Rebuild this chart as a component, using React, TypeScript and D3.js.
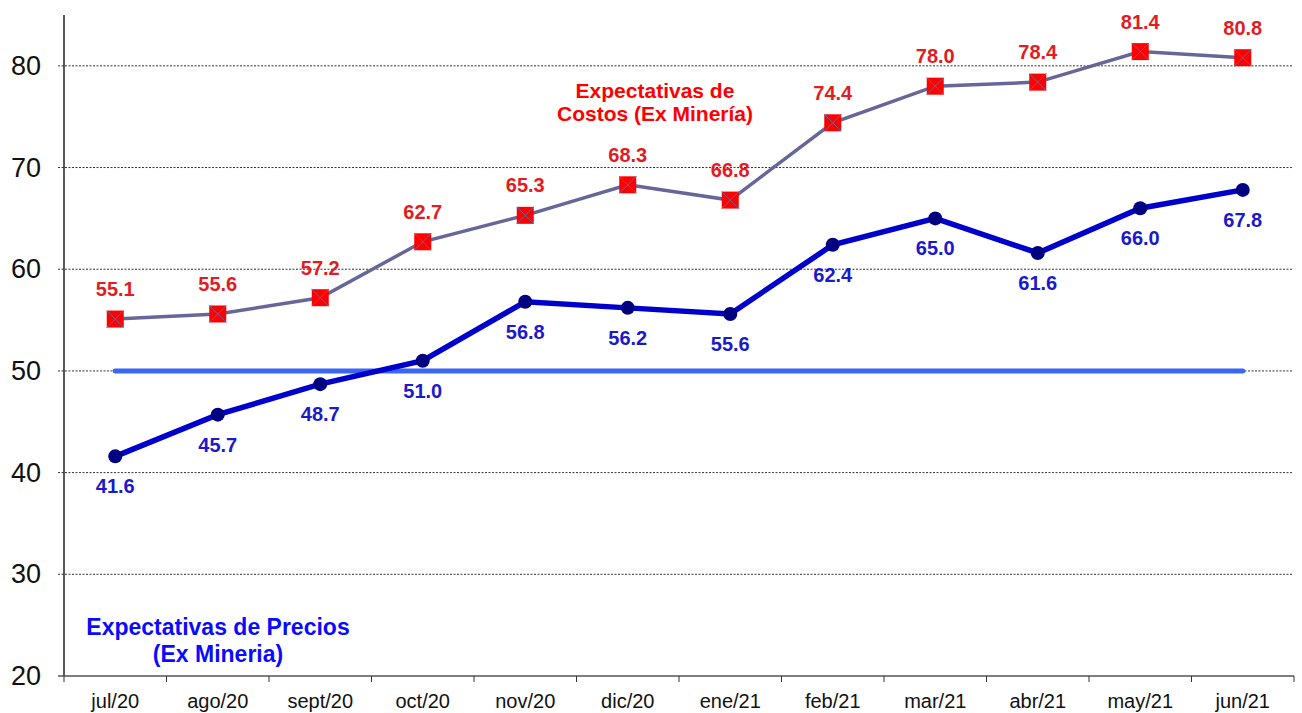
import React from "react";
import * as d3 from "d3";

const months = ["jul/20","ago/20","sept/20","oct/20","nov/20","dic/20","ene/21","feb/21","mar/21","abr/21","may/21","jun/21"];
const costos = [55.1,55.6,57.2,62.7,65.3,68.3,66.8,74.4,78.0,78.4,81.4,80.8];
const precios = [41.6,45.7,48.7,51.0,56.8,56.2,55.6,62.4,65.0,61.6,66.0,67.8];
const yTicks = [20,30,40,50,60,70,80];
const neutral = 50;

const W = 1302, H = 713;
const left = 64, right = 1294, top = 15, bottom = 676;

export default function App() {
  const x = d3.scaleBand<string>().domain(months).range([left, right]);
  const y = d3.scaleLinear().domain([20, 85]).range([bottom, top]);
  const cx = (m: string) => (x(m) as number) + x.bandwidth() / 2;
  const line = d3.line<number>().x((_, i) => cx(months[i])).y((d) => y(d));
  const font = "Arial, 'Liberation Sans', sans-serif";
  return (
    <div style={{ position: "absolute", left: 0, top: 0 }}>
      <svg width={W} height={H} style={{ display: "block", fontFamily: font }}>
        <rect width={W} height={H} fill="#fff" />
        {yTicks.filter(t => t > 20).map((t) => (
          <line key={t} x1={left - 6} x2={right - 1} y1={y(t)} y2={y(t)} stroke="#333" strokeWidth={1} strokeDasharray="2,1.5" />
        ))}
        {yTicks.map((t) => (
          <text key={t} x={41} y={y(t)} textAnchor="end" dominantBaseline="central" fontSize={27} fill="#111">{t}</text>
        ))}
        <line x1={left} x2={left} y1={top} y2={bottom} stroke="#000" strokeWidth={1.3} />
        <line x1={left - 6} x2={right} y1={bottom} y2={bottom} stroke="#555" strokeWidth={1.5} />
        {months.map((m) => (
          <line key={m} x1={x(m) as number} x2={x(m) as number} y1={bottom} y2={bottom + 6} stroke="#333" strokeWidth={1} />
        ))}
        <line x1={right} x2={right} y1={bottom} y2={bottom + 6} stroke="#333" strokeWidth={1} />
        {months.map((m) => (
          <text key={m} x={cx(m)} y={701} textAnchor="middle" dominantBaseline="central" fontSize={20} fill="#111">{m}</text>
        ))}
        <line x1={cx(months[0])} x2={cx(months[months.length - 1])} y1={y(neutral)} y2={y(neutral)} stroke="#3a66f2" strokeWidth={5} strokeLinecap="round" />
        <path d={line(costos) || ""} fill="none" stroke="#666699" strokeWidth={3.5} />
        <path d={line(precios) || ""} fill="none" stroke="#0000cc" strokeWidth={5.5} />
        {costos.map((v, i) => {
          const px = cx(months[i]), py = y(v), s = 8.5;
          return (
            <g key={i}>
              <rect x={px - s} y={py - s} width={2 * s} height={2 * s} fill="#ff0000" />
              <line x1={px - s} y1={py - s} x2={px + s} y2={py + s} stroke="#666699" strokeWidth={1} />
              <line x1={px - s} y1={py + s} x2={px + s} y2={py - s} stroke="#666699" strokeWidth={1} />
              <text x={px} y={py - 30} textAnchor="middle" dominantBaseline="central" fontSize={20} fontWeight="bold" fill="#e31b23">{v.toFixed(1)}</text>
            </g>
          );
        })}
        {precios.map((v, i) => {
          const px = cx(months[i]), py = y(v);
          return (
            <g key={i}>
              <circle cx={px} cy={py} r={7} fill="#000080" />
              <text x={px} y={py + 30} textAnchor="middle" dominantBaseline="central" fontSize={20} fontWeight="bold" fill="#1a1acc">{v.toFixed(1)}</text>
            </g>
          );
        })}
        <text x={655} y={90} textAnchor="middle" dominantBaseline="central" fontSize={21} fontWeight="bold" fill="#ff0000">Expectativas de</text>
        <text x={655} y={113} textAnchor="middle" dominantBaseline="central" fontSize={21} fontWeight="bold" fill="#ff0000">Costos (Ex Minería)</text>
        <text x={218} y={627} textAnchor="middle" dominantBaseline="central" fontSize={23} fontWeight="bold" fill="#0a0aff">Expectativas de Precios</text>
        <text x={218} y={654} textAnchor="middle" dominantBaseline="central" fontSize={23} fontWeight="bold" fill="#0a0aff">(Ex Mineria)</text>
      </svg>
    </div>
  );
}
